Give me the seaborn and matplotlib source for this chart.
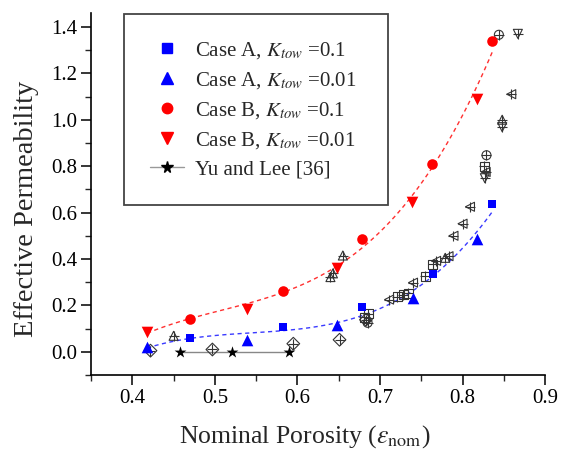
import numpy as np
import pandas as pd
import matplotlib
matplotlib.use("Agg")
import matplotlib.pyplot as plt
from matplotlib.lines import Line2D
from matplotlib.ticker import MultipleLocator
import seaborn as sns

# ---- data ----
a01_x = [0.470, 0.582, 0.678, 0.764, 0.836]
a01_y = [0.061, 0.108, 0.194, 0.337, 0.635]
a001_x = [0.418, 0.539, 0.648, 0.740, 0.818]
a001_y = [0.020, 0.052, 0.117, 0.233, 0.484]
b01_x = [0.470, 0.582, 0.678, 0.763, 0.836]
b01_y = [0.143, 0.264, 0.488, 0.808, 1.340]
b001_x = [0.418, 0.539, 0.648, 0.739, 0.818]
b001_y = [0.085, 0.186, 0.363, 0.644, 1.089]
yu_x = [0.458, 0.521, 0.590]
yu_y = [0.0, 0.0, 0.0]

ref_x = [0.422, 0.450, 0.497, 0.595, 0.640, 0.643, 0.655, 0.651, 0.681, 0.686,
         0.685, 0.683, 0.711, 0.721, 0.728, 0.734, 0.740, 0.755, 0.764, 0.768,
         0.779, 0.783, 0.789, 0.800, 0.809, 0.829, 0.826, 0.828, 0.827, 0.844,
         0.867, 0.859, 0.848, 0.848]
ref_y = [0.005, 0.069, 0.010, 0.035, 0.322, 0.338, 0.415, 0.052, 0.150, 0.163,
         0.125, 0.138, 0.225, 0.238, 0.246, 0.252, 0.298, 0.326, 0.378, 0.392,
         0.405, 0.412, 0.500, 0.552, 0.625, 0.847, 0.800, 0.775, 0.748, 1.366,
         1.370, 1.110, 1.000, 0.968]
ref_m = ['D', '^', 'D', 'D', '^', '^', '^', 'D', 's', 's',
         'o', 'D', '<', 's', 's', 's', '<', 's', 's', '<',
         '^', '<', '<', '<', '<', 'o', 's', '<', 'v', 'o',
         'v', '<', '^', 'v']

sns.set_style("ticks")
plt.rcParams['font.family'] = ['Liberation Serif', 'DejaVu Serif']
plt.rcParams['mathtext.fontset'] = 'stix'

fig = plt.figure(figsize=(5.69, 4.63), dpi=100)
ax = fig.add_axes([0.160, 0.190, 0.798, 0.782])

# fits
red_fit = pd.DataFrame({'x': b001_x + b01_x, 'y': b001_y + b01_y})
blue_fit = pd.DataFrame({'x': a001_x + a01_x, 'y': a001_y + a01_y})
sns.regplot(data=red_fit, x='x', y='y', order=3, ci=None, scatter=False, ax=ax,
            line_kws=dict(color='#ff3030', lw=1.0, ls=(0, (3, 2.5))))
sns.regplot(data=blue_fit, x='x', y='y', order=3, ci=None, scatter=False, ax=ax,
            line_kws=dict(color='#3a3aff', lw=1.0, ls=(0, (3, 2.5))))

# reference gray markers
ref = pd.DataFrame({'x': ref_x, 'y': ref_y, 'm': ref_m})
for m, g in ref.groupby('m'):
    sns.scatterplot(data=g, x='x', y='y', marker=m, s=42, facecolor='none',
                    edgecolor='#333333', linewidth=0.8, ax=ax, zorder=3)
    sns.scatterplot(data=g, x='x', y='y', marker='+', s=42, color='#333333',
                    linewidth=0.8, ax=ax, zorder=3)

# Yu and Lee
yu = pd.DataFrame({'x': yu_x, 'y': yu_y})
sns.lineplot(data=yu, x='x', y='y', color='#888888', lw=1.0, ax=ax, zorder=2)
sns.scatterplot(data=yu, x='x', y='y', marker='*', s=80, color='black',
                linewidth=0, ax=ax, zorder=4)

# cases
sns.scatterplot(x=a01_x, y=a01_y, marker='s', s=40, color='#0000ff', linewidth=0, ax=ax, zorder=5)
sns.scatterplot(x=a001_x, y=a001_y, marker='^', s=70, color='#0000ff', linewidth=0, ax=ax, zorder=5)
sns.scatterplot(x=b01_x, y=b01_y, marker='o', s=58, color='#ff0000', linewidth=0, ax=ax, zorder=5)
sns.scatterplot(x=b001_x, y=b001_y, marker='v', s=70, color='#ff0000', linewidth=0, ax=ax, zorder=5)

ax.set_xlim(0.35, 0.9)
ax.set_ylim(-0.1, 1.46)
ax.xaxis.set_minor_locator(MultipleLocator(0.05))
ax.yaxis.set_minor_locator(MultipleLocator(0.1))
ax.set_xticks([0.4, 0.5, 0.6, 0.7, 0.8, 0.9])
ax.set_xticklabels(['0.4', '0.5', '0.6', '0.7', '0.8', '0.9'])
ax.set_yticks([0.0, 0.2, 0.4, 0.6, 0.8, 1.0, 1.2, 1.4])
ax.set_yticklabels(['0.0', '0.2', '0.4', '0.6', '0.8', '1.0', '1.2', '1.4'])
ax.tick_params(which='major', direction='out', length=7, width=1.1, labelsize=15,
               colors='black', pad=3)
ax.tick_params(which='minor', direction='out', length=4, width=1.0)
for s in ['top', 'right']:
    ax.spines[s].set_visible(False)
for s in ['left', 'bottom']:
    ax.spines[s].set_linewidth(1.2)
    ax.spines[s].set_color('black')

ax.set_xlabel(r'Nominal Porosity ($\varepsilon_{\rm nom}$)', fontsize=18.5)
ax.set_ylabel('Effective Permeability', fontsize=20.5)
ax.xaxis.set_label_coords(0.471, -0.132)
ax.yaxis.set_label_coords(-0.115, 0.459)

handles = [
    Line2D([], [], marker='s', color='#0000ff', ls='none', markersize=6.5),
    Line2D([], [], marker='^', color='#0000ff', ls='none', markersize=8),
    Line2D([], [], marker='o', color='#ff0000', ls='none', markersize=7.5),
    Line2D([], [], marker='v', color='#ff0000', ls='none', markersize=8),
    Line2D([], [], marker='*', color='#999999', markerfacecolor='black',
           markeredgecolor='black', ls='-', lw=1.0, markersize=8.5),
]
labels = [r'Case A, $K_{tow}$ =0.1', r'Case A, $K_{tow}$ =0.01',
          r'Case B, $K_{tow}$ =0.1', r'Case B, $K_{tow}$ =0.01', 'Yu and Lee [36]']
leg = ax.legend(handles, labels, loc='upper left',
                bbox_to_anchor=(0.073, 0.5, 0.582, 0.497), mode='expand',
                fontsize=15, frameon=True, fancybox=False, framealpha=1,
                edgecolor='#444444', borderpad=1.25, labelspacing=0.43,
                handlelength=1.6, handletextpad=0.55, borderaxespad=0)
leg.get_frame().set_linewidth(1.3)

fig.savefig('out.png', dpi=100)
